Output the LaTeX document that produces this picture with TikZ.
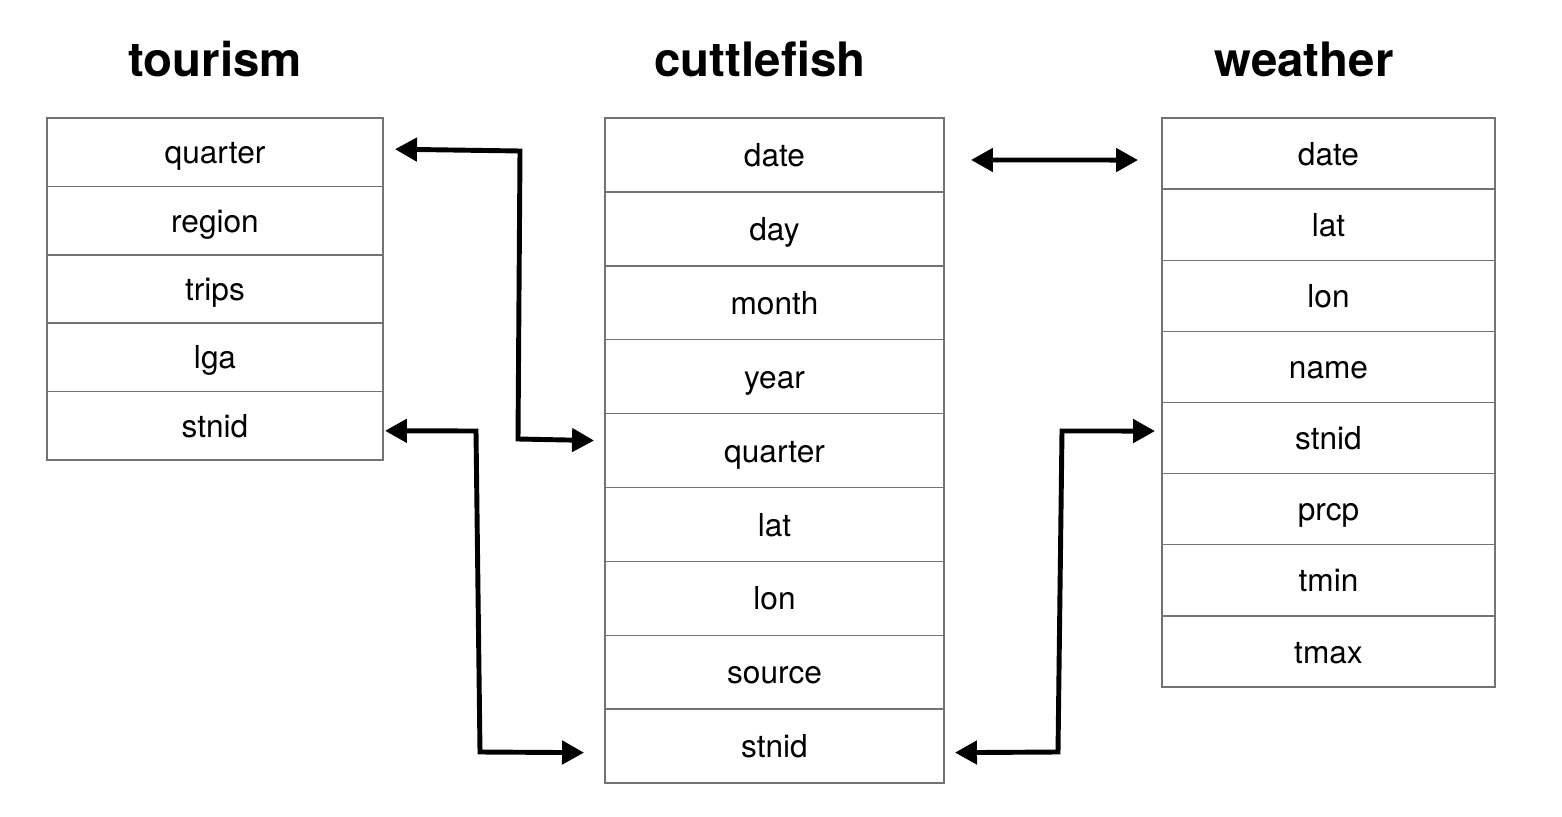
\documentclass[tikz,border=0pt]{standalone}
\usepackage{fontspec}
\setmainfont{TeX Gyre Heros}
\usetikzlibrary{arrows.meta,calc}
\begin{document}
\begin{tikzpicture}[x=0.02cm,y=-0.02cm,
  cell/.style={draw=black!55,line width=0.8pt,inner sep=0pt,outer sep=0pt,
    font=\fontsize{18}{20}\selectfont,text height=1.32em,text depth=0em},
  title/.style={font=\fontsize{27}{30}\selectfont\bfseries,anchor=base,inner sep=0pt},
  link/.style={line width=2.8pt,{Triangle[length=0.44cm,width=0.46cm]}-{Triangle[length=0.44cm,width=0.46cm]}}]
\useasboundingbox (0,0) rectangle (1562,817);
\fill[white] (0,0) rectangle (1562,817);
% titles
\node[title] (tt) at (215,77) {tourism};
\node[title] (ct) at (760,77) {cuttlefish};
\node[title] (wt) at (1304,77) {weather};
% tourism
\foreach \n/\t [count=\i] in {t1/quarter,t2/region,t3/trips,t4/lga,t5/stnid}
  \node[cell,minimum width=6.72cm,minimum height=1.368cm] (\n) at (215,{118+68.4*(\i-0.5)}) {\t};
% cuttlefish
\foreach \n/\t [count=\i] in {c1/date,c2/day,c3/month,c4/year,c5/quarter,c6/lat,c7/lon,c8/source,c9/stnid}
  \node[cell,minimum width=6.78cm,minimum height=1.478cm] (\n) at (774.5,{118+73.9*(\i-0.5)}) {\t};
% weather
\foreach \n/\t [count=\i] in {w1/date,w2/lat,w3/lon,w4/name,w5/stnid,w6/prcp,w7/tmin,w8/tmax}
  \node[cell,minimum width=6.66cm,minimum height=1.4225cm] (\n) at (1328.5,{118+71.125*(\i-0.5)}) {\t};
% connectors
\coordinate (a1) at (520,151);
\coordinate (a2) at (518,439);
\draw[link] ([shift={(12,-3)}]t1.east) -- (a1) -- (a2) -- ([shift={(-11,-10)}]c5.west);
\draw[link] ([shift={(27,5)}]c1.east) -- ([shift={(-24,6.5)}]w1.west);
\coordinate (b1) at (476,431);
\coordinate (b2) at (480,752);
\draw[link] ([shift={(2,5)}]t5.east) -- (b1) -- (b2) -- ([shift={(-21,6.5)}]c9.west);
\coordinate (d1) at (1058,752);
\coordinate (d2) at (1062,431);
\draw[link] ([shift={(11,6.5)}]c9.east) -- (d1) -- (d2) -- ([shift={(-7,-7)}]w5.west);
\end{tikzpicture}
\end{document}
